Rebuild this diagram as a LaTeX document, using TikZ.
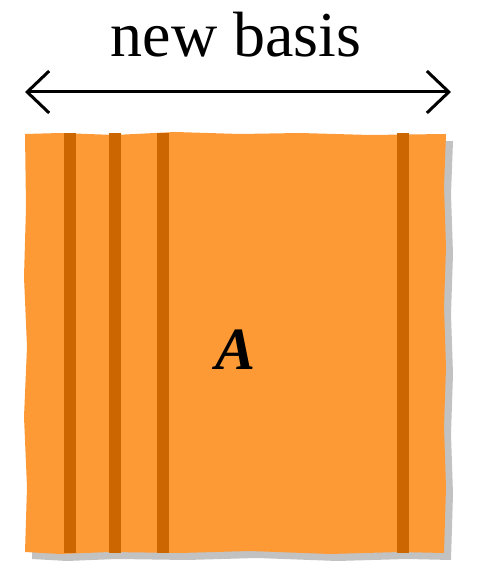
\documentclass[tikz,border=0pt]{standalone}
\usepackage{fontspec}
\setmainfont{Liberation Serif}
\usetikzlibrary{arrows.meta}
\definecolor{sheetfill}{HTML}{FD9A35}
\definecolor{sheetstripe}{HTML}{CC6600}
\definecolor{sheetshadow}{HTML}{C2C2C2}
\newcommand{\sheetpath}{(25,433) -- (60,434) -- (115,432) -- (175,435) -- (240,433) -- (300,434) -- (370,432) -- (446,433)
  -- (444,380) -- (446,320) -- (444,260) -- (446,200) -- (444,140) -- (446,80) -- (444,14)
  -- (400,15) -- (330,13) -- (250,16) -- (180,14) -- (110,15) -- (60,13) -- (25,15)
  -- (27,80) -- (24,150) -- (27,220) -- (24,290) -- (26,360) -- cycle}

\begin{document}
\begin{tikzpicture}[x=0.5pt, y=0.5pt, every node/.style={font=\fontsize{32}{38}\selectfont}, stripe/.style={fill=sheetstripe}]
  \useasboundingbox (0,0) rectangle (483,567);

  % shadow, then the sheet itself
  \fill[sheetshadow, shift={(7,-7)}] \sheetpath;
  \fill[sheetfill] \sheetpath;

  % basis columns
  \foreach \cx in {70,115,163,403}
    \path[stripe] (\cx-6,14) rectangle (\cx+6,434);

  \node (matA) at (236,217) {\fontsize{30}{36}\selectfont\textbf{\textit{A}}};

  \node[anchor=base] (title) at (236,510) {new basis};
  \coordinate (basisL) at (25,475);
  \coordinate (basisR) at (451,475);
  \draw[line width=1.5pt, {Straight Barb[length=11pt,width=21pt]}-{Straight Barb[length=11pt,width=21pt]}] (basisL) -- (basisR);

\end{tikzpicture}
\end{document}
